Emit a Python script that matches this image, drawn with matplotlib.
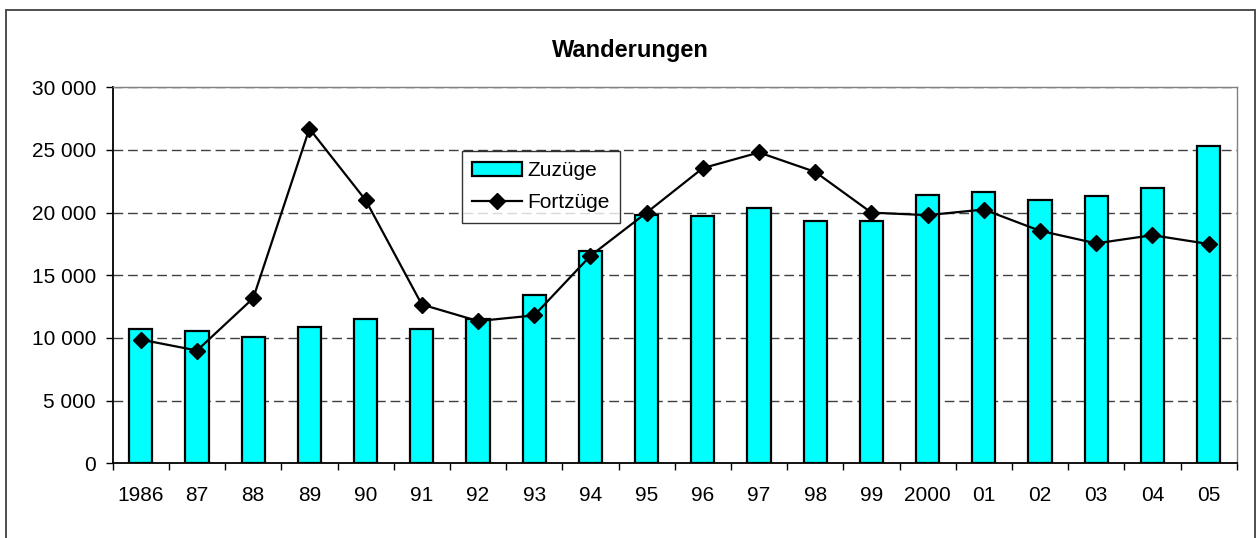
import matplotlib
matplotlib.use("Agg")
import matplotlib.pyplot as plt
from matplotlib.patches import Rectangle, Patch
from matplotlib.lines import Line2D
from matplotlib.ticker import FuncFormatter, FixedLocator

plt.rcParams['font.family'] = ['Liberation Sans', 'DejaVu Sans']

years = ["1986", "87", "88", "89", "90", "91", "92", "93", "94", "95",
         "96", "97", "98", "99", "2000", "01", "02", "03", "04", "05"]
zuzuege = [10700, 10550, 10100, 10900, 11500, 10700, 11500, 13400, 16950, 19850,
           19750, 20350, 19300, 19350, 21400, 21650, 21000, 21300, 22000, 25300]
fortzuege = [9870, 9000, 13170, 26700, 21000, 12670, 11350, 11800, 16550, 20000,
             23550, 24800, 23250, 20000, 19800, 20250, 18550, 17550, 18200, 17500]
title = "Wanderungen"
yticks = [0, 5000, 10000, 15000, 20000, 25000, 30000]

W, H = 1257, 538
fig = plt.figure(figsize=(W / 100, H / 100), dpi=100)
fig.patch.set_facecolor('white')

# outer chart border
fig.add_artist(Rectangle((6 / W, -0.02), (1255 - 6) / W, (538 - 9.7) / H + 0.02,
                         transform=fig.transFigure, fill=False,
                         edgecolor='#404040', linewidth=1.3, zorder=0))

left, right = 112.7 / W, 1236.7 / W
bottom, top = 1 - 463.3 / H, 1 - 87.3 / H
ax = fig.add_axes([left, bottom, right - left, top - bottom])

x = list(range(len(years)))
ax.bar(x, zuzuege, width=0.41, color='#00FFFF', edgecolor='black',
       linewidth=1.6, zorder=3, label='Zuzüge')
ax.plot(x, fortzuege, color='black', linewidth=1.6, marker='D',
        markersize=8.5, markerfacecolor='black', markeredgecolor='black',
        zorder=4, label='Fortzüge')

ax.set_xlim(-0.5, len(years) - 0.5)
ax.set_ylim(0, 30000)

# grid
for v in yticks[1:]:
    ax.axhline(v, color='#404040', linewidth=1.0, linestyle=(0, (7, 3.5)), zorder=1)

ax.spines['top'].set_color('#808080')
ax.spines['top'].set_linewidth(1.0)
ax.spines['right'].set_color('#808080')
ax.spines['right'].set_linewidth(1.0)
ax.spines['left'].set_color('black')
ax.spines['left'].set_linewidth(1.3)
ax.spines['bottom'].set_color('black')
ax.spines['bottom'].set_linewidth(1.3)

ax.set_yticks(yticks)
ax.yaxis.set_major_formatter(FuncFormatter(lambda v, p: f"{int(v):,}".replace(",", " ")))
ax.tick_params(axis='y', direction='out', length=5, width=1, pad=7, labelsize=15,
               colors='black')

ax.set_xticks(x)
ax.set_xticklabels(years)
ax.xaxis.set_minor_locator(FixedLocator([i - 0.5 for i in range(len(years) + 1)]))
ax.tick_params(axis='x', which='major', length=0, pad=16, labelsize=15)
ax.tick_params(axis='x', which='minor', direction='out', length=5, width=1)

fig.text(630.5 / W, 1 - 51 / H, title, ha='center', va='center',
         fontsize=17, fontweight='bold')

handles = [Patch(facecolor='#00FFFF', edgecolor='black', linewidth=1.6),
           Line2D([0], [0], color='black', linewidth=1.6, marker='D',
                  markersize=8.5, markerfacecolor='black')]
leg = ax.legend(handles, ['Zuzüge', 'Fortzüge'], loc='upper left',
                bbox_to_anchor=((461.7 - 112.7) / 1124, (463.3 - 151) / 376),
                borderaxespad=0, fontsize=15, frameon=True, fancybox=False,
                shadow=False, handlelength=2.4, handleheight=0.6,
                handletextpad=0.25, borderpad=0.5, labelspacing=0.62)
leg.get_frame().set_edgecolor('black')
leg.get_frame().set_linewidth(1.0)
leg.set_zorder(5)

fig.savefig('out.png', dpi=100)
